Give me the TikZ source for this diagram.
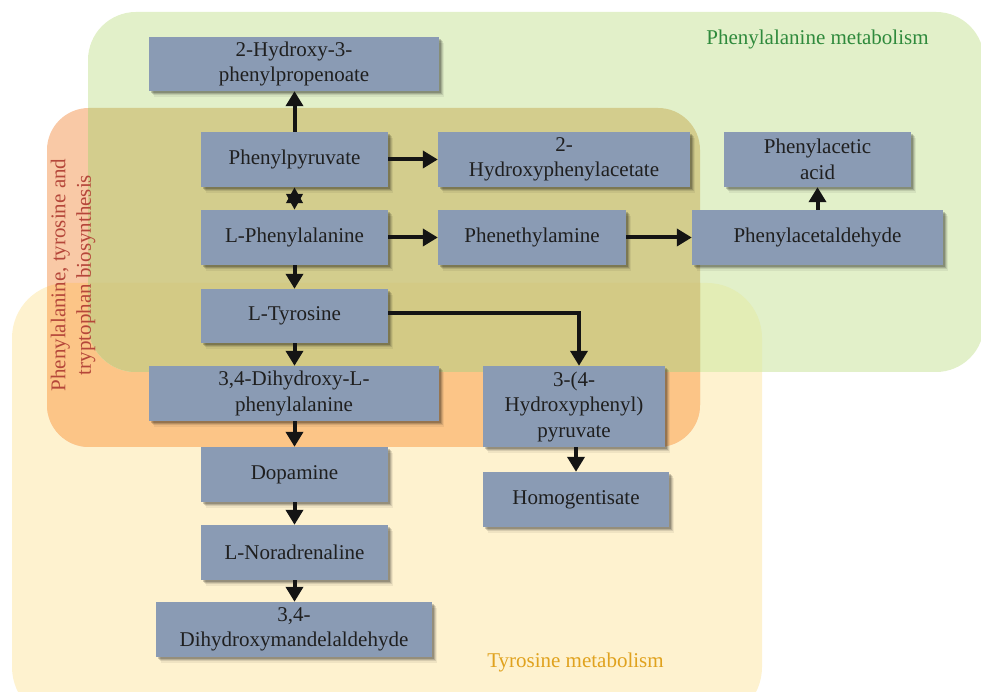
\documentclass[tikz,border=0pt]{standalone}
\usepackage{fontspec}
\setmainfont{Liberation Serif}
\usetikzlibrary{arrows.meta}
\definecolor{Yonly}{HTML}{FEF2CF}
\definecolor{Oonly}{HTML}{F9C9A6}
\definecolor{OY}{HTML}{FCC587}
\definecolor{Gonly}{HTML}{E2F0C9}
\definecolor{GY}{HTML}{E3EDB5}
\definecolor{GO}{HTML}{D3CD8D}
\definecolor{GOY}{HTML}{D3CA85}
\definecolor{boxfill}{HTML}{8A9BB4}
\definecolor{greentxt}{HTML}{2F8A3C}
\definecolor{goldtxt}{HTML}{E0A21E}
\definecolor{redtxt}{HTML}{B5473A}
\begin{document}
\begin{tikzpicture}[x=1pt,y=1pt,
  box/.style={fill=boxfill, draw=none, align=center, inner sep=2pt,
    text=black!88, font=\fontsize{21}{25.5}\selectfont,
    preaction={fill=black, fill opacity=0.06, transform canvas={xshift=4.5pt,yshift=-6pt}},
    preaction={fill=black, fill opacity=0.10, transform canvas={xshift=3.5pt,yshift=-4.5pt}},
    preaction={fill=black, fill opacity=0.14, transform canvas={xshift=2.5pt,yshift=-3pt}},
    preaction={fill=black, fill opacity=0.18, transform canvas={xshift=1.5pt,yshift=-1.8pt}}},
  conn/.style={line width=4pt, black!92, -{Triangle[width=17pt,length=15pt]}},
  dconn/.style={line width=4pt, black!92, {Triangle[width=16pt,length=16pt]}-{Triangle[width=16pt,length=16pt]}},
  lbl/.style={font=\fontsize{21}{25.5}\selectfont}]
\clip (0,0) rectangle (981,692);
\def\yelpath{[rounded corners=55pt] (12,-30) rectangle (762,409)}
\def\orapath{[rounded corners=42pt] (47,245) rectangle (700,584)}
\def\grnpath{[rounded corners=48pt] (88,320) rectangle (984,680)}
% regions
\fill[Yonly] \yelpath;
\fill[Oonly] \orapath;
\begin{scope}
  \clip \orapath;
  \fill[OY] \yelpath;
\end{scope}
\fill[Gonly] \grnpath;
\begin{scope}
  \clip \grnpath;
  \fill[GY] \yelpath;
  \fill[GO] \orapath;
  \begin{scope}
    \clip \orapath;
    \fill[GOY] \yelpath;
  \end{scope}
\end{scope}
% region labels
\node[lbl, text=greentxt, anchor=base] (lgreen) at (817.5,647) {Phenylalanine metabolism};
\node[lbl, text=goldtxt, anchor=base] (lgold) at (575.5,24) {Tyrosine metabolism};
\node[lbl, text=redtxt, rotate=90, align=center] (lred) at (73,417) {Phenylalanine, tyrosine and\\tryptophan biosynthesis};
% boxes
\node[box, minimum width=290pt, minimum height=54pt] (hyd) at (294,628) {2-Hydroxy-3-\\phenylpropenoate};
\node[box, minimum width=187pt, minimum height=55pt] (ppy) at (294.5,532.5) {Phenylpyruvate};
\node[box, minimum width=187pt, minimum height=55pt] (phe) at (294.5,454.5) {L-Phenylalanine};
\node[box, minimum width=187pt, minimum height=54pt] (tyr) at (294.5,376) {L-Tyrosine};
\node[box, minimum width=252pt, minimum height=55pt] (hpa) at (564,532.5) {2-\\Hydroxyphenylacetate};
\node[box, minimum width=188pt, minimum height=55pt] (pea) at (532,454.5) {Phenethylamine};
\node[box, minimum width=187pt, minimum height=55pt] (paa) at (817.5,532.5) {Phenylacetic\\acid};
\node[box, minimum width=251pt, minimum height=55pt] (pad) at (817.5,454.5) {Phenylacetaldehyde};
\node[box, minimum width=290pt, minimum height=55pt] (dopa) at (294,298.5) {3,4-Dihydroxy-L-\\phenylalanine};
\node[box, minimum width=182pt, minimum height=81pt] (hpp) at (574,285.5) {3-(4-\\Hydroxyphenyl)\\pyruvate};
\node[box, minimum width=186pt, minimum height=55pt] (hgt) at (576,192.5) {Homogentisate};
\node[box, minimum width=187pt, minimum height=55pt] (dpm) at (294.5,217.5) {Dopamine};
\node[box, minimum width=187pt, minimum height=55pt] (nor) at (294.5,139.5) {L-Noradrenaline};
\node[box, minimum width=276pt, minimum height=55pt] (dhm) at (294,62.5) {3,4-\\Dihydroxymandelaldehyde};
% connectors
\draw[conn] (ppy.north) -- (ppy.north |- hyd.south);
\draw[dconn] (ppy.south) -- (phe.north);
\draw[conn] (phe.south) -- (tyr.north);
\draw[conn] (tyr.south) -- (tyr.south |- dopa.north);
\draw[conn] (dopa.south -| dpm.north) -- (dpm.north);
\draw[conn] (dpm.south) -- (nor.north);
\draw[conn] (nor.south) -- (nor.south |- dhm.north);
\draw[conn] (ppy.east) -- (hpa.west);
\draw[conn] (phe.east) -- (pea.west);
\draw[conn] (pea.east) -- (pad.west);
\draw[conn] (pad.north) -- (paa.south);
\coordinate (tyrout) at ([yshift=3pt]tyr.east);
\coordinate (hppin) at ([xshift=5pt]hpp.north);
\draw[conn] (tyrout) -| (hppin);
\draw[conn] (hgt.north |- hpp.south) -- (hgt.north);
\end{tikzpicture}
\end{document}
